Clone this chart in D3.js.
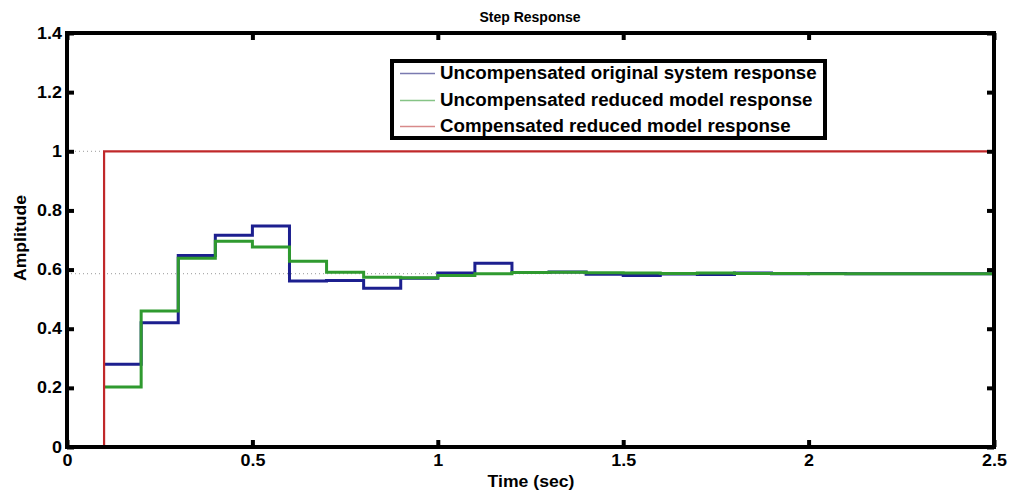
<!DOCTYPE html>
<html>
<head>
<meta charset="utf-8">
<script src="https://cdn.jsdelivr.net/npm/d3@7.9.0/dist/d3.min.js"></script>
<style>
  body { margin: 0; background: #fff; }
  svg { display: block; font-family: "Liberation Sans", Arial, sans-serif; }
</style>
</head>
<body>
<svg id="chart" width="1012" height="496"></svg>
<script>
// step data, sample time 0.1 s, starting at t = 0.1
const stepStart = 0.1;
const stepDt = 0.1;
const originalResp = [0.28, 0.42, 0.648, 0.716, 0.747, 0.561, 0.563, 0.537, 0.571, 0.588,
  0.621, 0.59, 0.592, 0.584, 0.58, 0.585, 0.583, 0.588, 0.586, 0.587, 0.586, 0.586, 0.586, 0.586, 0.586];
const reducedResp = [0.203, 0.46, 0.638, 0.696, 0.676, 0.628, 0.591, 0.574, 0.572, 0.58,
  0.586, 0.59, 0.591, 0.589, 0.588, 0.587, 0.588, 0.587, 0.587, 0.586, 0.586, 0.586, 0.586, 0.586, 0.586];
const compensatedResp = [1, 1];
const steadyLevels = [1, 0.586];
const xTicks = [0, 0.5, 1, 1.5, 2, 2.5];
const yTicks = [0, 0.2, 0.4, 0.6, 0.8, 1, 1.2, 1.4];
const legendLabels = ["Uncompensated original system response", "Uncompensated reduced model response", "Compensated reduced model response"];
const colors = ["#1c1f8f", "#2f9a2f", "#c0282a"];
const legendLineColors = ["#7a7ab0", "#86c486", "#d88a8a"];

const svg = d3.select("#chart");
const mLeft = 67, mRight = 994, mTop = 33, mBottom = 447;

const x = d3.scaleLinear().domain([0, 2.5]).range([mLeft, mRight]);
const y = d3.scaleLinear().domain([0, 1.4]).range([mBottom, mTop]);

// the picture looks a bit widened, so stretch text glyphs horizontally
function stretch(sel, k) {
  sel.each(function () {
    const w = this.getComputedTextLength();
    if (w > 0) d3.select(this).attr("textLength", w * k).attr("lengthAdjust", "spacingAndGlyphs");
  });
}

// title and axis labels
svg.append("text").attr("x", 530).attr("y", 22).attr("text-anchor", "middle")
  .attr("font-weight", "bold").attr("font-size", 14).text("Step Response");
svg.append("text").attr("x", 531).attr("y", 487).attr("text-anchor", "middle")
  .attr("font-weight", "bold").attr("font-size", 16).text("Time (sec)").call(stretch, 1.1);
svg.append("text").attr("transform", `translate(26,238) rotate(-90)`)
  .attr("text-anchor", "middle").attr("font-weight", "bold").attr("font-size", 16).text("Amplitude").call(stretch, 1.1);

// steady state dotted lines
svg.append("line").attr("x1", mLeft).attr("x2", x(stepStart))
  .attr("y1", y(steadyLevels[0])).attr("y2", y(steadyLevels[0]))
  .attr("stroke", "#999").attr("stroke-dasharray", "1,3");
svg.append("line").attr("x1", mLeft).attr("x2", mRight)
  .attr("y1", y(steadyLevels[1])).attr("y2", y(steadyLevels[1]))
  .attr("stroke", "#999").attr("stroke-dasharray", "1,3");

function toSteps(vals) {
  const pts = vals.map((v, i) => [stepStart + i * stepDt, v]);
  pts.push([2.5, vals[vals.length - 1]]);
  return pts;
}
const stepLine = d3.line().x(d => x(d[0])).y(d => y(d[1])).curve(d3.curveStepAfter);

svg.append("path").datum(toSteps(originalResp)).attr("d", stepLine)
  .attr("fill", "none").attr("stroke", colors[0]).attr("stroke-width", 3);
svg.append("path").datum(toSteps(reducedResp)).attr("d", stepLine)
  .attr("fill", "none").attr("stroke", colors[1]).attr("stroke-width", 3);

// compensated: 0 until 0.1 then 1
const compPts = [[0, 0], [stepStart, 0], [stepStart, compensatedResp[0]], [2.5, compensatedResp[1]]];
svg.append("path").datum(compPts).attr("d", d3.line().x(d => x(d[0])).y(d => y(d[1])))
  .attr("fill", "none").attr("stroke", colors[2]).attr("stroke-width", 2.2);

// axes with inward ticks on all sides
const tickFmt = d => d3.format("")(d);
svg.append("g").attr("transform", `translate(0,${mBottom})`)
  .call(d3.axisBottom(x).tickValues(xTicks).tickSize(-7).tickPadding(8).tickFormat(tickFmt))
  .call(g => g.select(".domain").remove());
svg.append("g").attr("transform", `translate(0,${mTop})`)
  .call(d3.axisTop(x).tickValues(xTicks).tickSize(-7).tickFormat(""))
  .call(g => g.select(".domain").remove());
svg.append("g").attr("transform", `translate(${mLeft},0)`)
  .call(d3.axisLeft(y).tickValues(yTicks).tickSize(-7).tickPadding(5).tickFormat(tickFmt))
  .call(g => g.select(".domain").remove());
svg.append("g").attr("transform", `translate(${mRight},0)`)
  .call(d3.axisRight(y).tickValues(yTicks).tickSize(-7).tickFormat(""))
  .call(g => g.select(".domain").remove());
svg.selectAll(".tick line").attr("stroke", "#000").attr("stroke-width", 4);
svg.selectAll(".tick text").attr("font-family", "Liberation Sans, Arial, sans-serif")
  .attr("font-weight", "bold").attr("font-size", 16).attr("fill", "#000")
  .call(stretch, 1.12);

svg.append("rect").attr("x", mLeft).attr("y", mTop).attr("width", mRight - mLeft).attr("height", mBottom - mTop)
  .attr("fill", "none").attr("stroke", "#000").attr("stroke-width", 4);

// legend
const lg = svg.append("g");
lg.append("rect").attr("x", 392).attr("y", 61).attr("width", 433).attr("height", 77)
  .attr("fill", "#fff").attr("stroke", "#000").attr("stroke-width", 4);
legendLabels.forEach((lab, i) => {
  const ly = Math.round(73 + i * 26.5) + 0.5;
  lg.append("line").attr("x1", 400).attr("x2", 435).attr("y1", ly).attr("y2", ly)
    .attr("stroke", legendLineColors[i]).attr("stroke-width", 1.5);
  lg.append("text").attr("x", 440).attr("y", ly + 5).attr("font-weight", "bold")
    .attr("font-size", 17.5).text(lab).call(stretch, 1.07);
});
</script>
</body>
</html>
